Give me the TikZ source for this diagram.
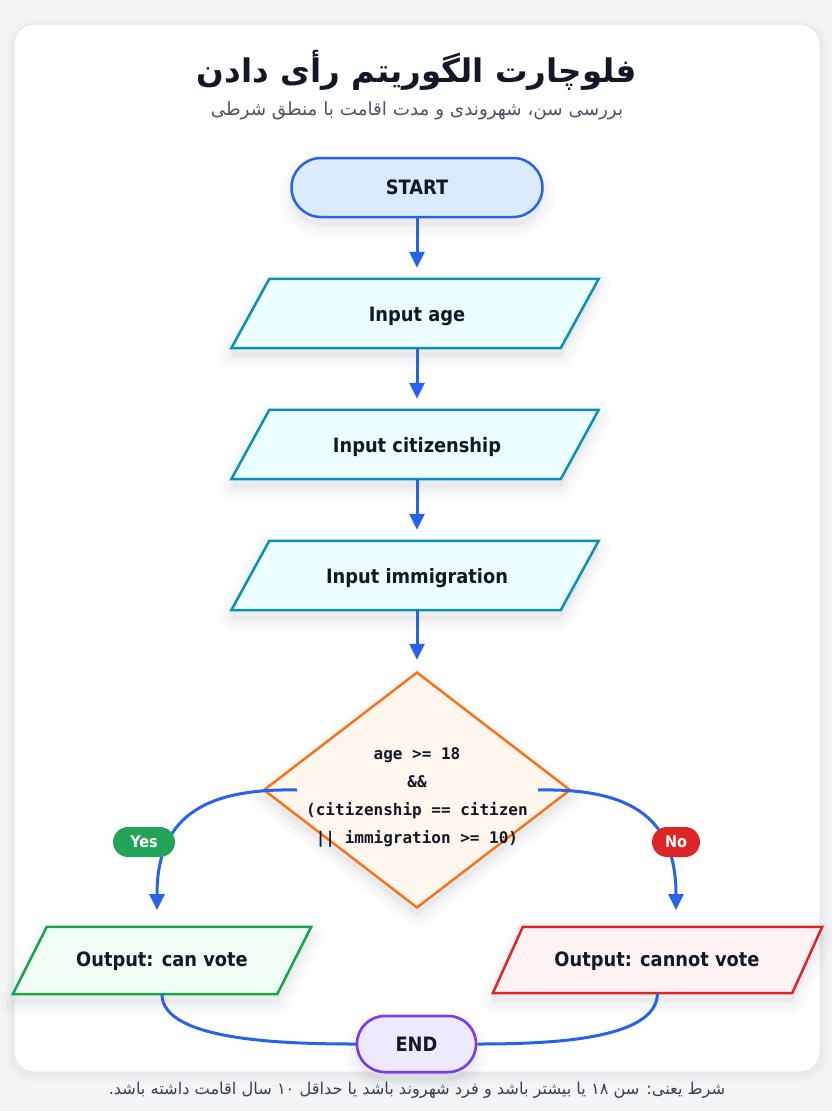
\documentclass[tikz,border=0pt]{standalone}
\usepackage{fontspec}
\setmainfont{DejaVu Sans}[FakeStretch=0.9]
\newfontfamily\fafont[Script=Arabic]{DejaVu Sans}
\newfontfamily\monofont{DejaVu Sans Mono}
\TeXXeTstate=1
\usetikzlibrary{shapes.geometric,arrows.meta}
\definecolor{pagebg}{HTML}{F3F4F6}
\definecolor{cardline}{HTML}{E5E7EB}
\definecolor{ink}{HTML}{111827}
\definecolor{subink}{HTML}{4B5563}
\definecolor{footink}{HTML}{374151}
\definecolor{flowblue}{HTML}{2563EB}
\definecolor{startfill}{HTML}{DBEAFE}
\definecolor{iofill}{HTML}{ECFEFF}
\definecolor{iodraw}{HTML}{0891B2}
\definecolor{decfill}{HTML}{FFF7ED}
\definecolor{decdraw}{HTML}{F97316}
\definecolor{yesfill}{HTML}{F0FDF4}
\definecolor{yesdraw}{HTML}{16A34A}
\definecolor{nofill}{HTML}{FEF2F2}
\definecolor{nodraw}{HTML}{DC2626}
\definecolor{endfill}{HTML}{EDE9FE}
\definecolor{enddraw}{HTML}{7C3AED}
\definecolor{yespill}{HTML}{22A559}
\definecolor{shade}{HTML}{1F2937}
\tikzset{
  shadowlayer/.style={preaction={draw=shade, fill=shade, draw opacity=#1, fill opacity=0.012,
     line join=round, transform canvas={yshift=-8pt}}},
  softshadow/.style={
     preaction={draw=shade, draw opacity=0.018, line width=24pt, line join=round, transform canvas={yshift=-8pt}},
     preaction={draw=shade, draw opacity=0.02, line width=14pt, line join=round, transform canvas={yshift=-8pt}},
     preaction={draw=shade, fill=shade, draw opacity=0.022, fill opacity=0.03, line width=5pt, line join=round, transform canvas={yshift=-8pt}}},
  cardshadow/.style={
     preaction={draw=shade, draw opacity=0.02, line width=14pt, line join=round, transform canvas={yshift=-3pt}},
     preaction={draw=shade, draw opacity=0.02, line width=7pt, line join=round, transform canvas={yshift=-3pt}}},
  lbl/.style={font=\bfseries\fontsize{19.8}{22}\selectfont, text=ink},
  term/.style={lbl, rectangle, line width=2.5pt, inner sep=0pt},
  iobox/.style={lbl, rectangle, inner sep=0pt},
  ioshape/.style={line width=2.5pt, line join=miter, softshadow},
  condbox/.style={diamond, line width=2.5pt, inner sep=0pt, draw=decdraw, fill=decfill, softshadow},
  condtext/.style={font=\monofont\bfseries\fontsize{16}{28}\selectfont, text=ink, align=center},
  flow/.style={draw=flowblue, line width=3pt, -{Triangle[length=16pt,width=15pt]}},
  link/.style={draw=flowblue, line width=3pt},
  pill/.style={rectangle, rounded corners=15pt, minimum height=30pt, inner sep=0pt, text=white,
     font=\bfseries\fontsize{16}{18}\selectfont}
}
% #1 node name, #2 half slant, #3 fill, #4 draw
\newcommand\paragram[4]{%
  \path[ioshape, fill=#3, draw=#4]
    ([xshift=-#2]#1.south west) -- ([xshift=-#2]#1.south east) --
    ([xshift=#2]#1.north east) -- ([xshift=#2]#1.north west) -- cycle;}
\begin{document}
\begin{tikzpicture}[x=1pt,y=-1pt]
\fill[pagebg] (0,0) rectangle (832,1111);
\useasboundingbox (0,0) rectangle (832,1111);
\draw[cardline, line width=1pt, fill=white, rounded corners=20pt, cardshadow]
  (14,24) rectangle (820,1072);

% titles
\node[font=\fafont\bfseries\fontsize{32.5}{38}\selectfont, text=ink] (title) at (417,70) {\beginR فلوچارت الگوریتم رأی دادن\endR};
\node[font=\fafont\fontsize{18.3}{20}\selectfont, text=subink] (subtitle) at (417,111) {\beginR بررسی سن، شهروندی و مدت اقامت با منطق شرطی\endR};

% start
\node[term, softshadow, fill=startfill, draw=flowblue, rounded corners=29.5pt, minimum width=251pt, minimum height=59pt] (start) at (417,187.5) {START};

% input boxes
\node[iobox, minimum width=329pt, minimum height=69pt] (age) at (415,313.5) {};
\node[iobox, minimum width=329pt, minimum height=69pt] (cit) at (415,444.5) {};
\node[iobox, minimum width=329pt, minimum height=69pt] (imm) at (415,575.5) {};
\paragram{age}{19pt}{iofill}{iodraw}
\paragram{cit}{19pt}{iofill}{iodraw}
\paragram{imm}{19pt}{iofill}{iodraw}
\node[lbl] (agetext) at (417,316) {Input age};
\node[lbl] (cittext) at (417,447) {Input citizenship};
\node[lbl] (immtext) at (417,578) {Input immigration};

% decision
\node[condbox, minimum width=307pt, minimum height=236pt] (cond) at (417,790) {};
\node[condtext] (condlbl) at (417,797) {age >= 18\\\&\&\\(citizenship == citizen\\|| immigration >= 10)};

% outputs
\node[iobox, minimum width=264pt, minimum height=67pt] (can) at (162,960.5) {};
\paragram{can}{17pt}{yesfill}{yesdraw}
\node[lbl] (cantext) at (162,961) {Output: can vote};
\node[iobox, minimum width=299pt, minimum height=66pt] (cannot) at (657.5,960) {};
\paragram{cannot}{15pt}{nofill}{nodraw}
\node[lbl] (cannottext) at (657,961) {Output: cannot vote};

% end
\node[term, softshadow, fill=endfill, draw=enddraw, rounded corners=28pt, minimum width=119pt, minimum height=56pt] (end) at (416.5,1044) {END};

% connectors
\draw[flow, shorten >=11pt] (start.south -| 417,0) -- (age.north -| 417,0);
\draw[flow, shorten >=11pt] (age.south -| 417,0) -- (cit.north -| 417,0);
\draw[flow, shorten >=11pt] (cit.south -| 417,0) -- (imm.north -| 417,0);
\draw[flow, shorten >=11pt] (imm.south -| 417,0) -- (cond.north);

\coordinate (yesstart) at (297,790);
\coordinate (yestip) at (157,910);
\coordinate (nostart) at (538,790);
\coordinate (notip) at (676,910);
\draw[flow] (yesstart) .. controls (200,788) and (157,820) .. (yestip);
\draw[flow] (nostart) .. controls (634,788) and (676,820) .. (notip);
\node[pill, fill=yespill, minimum width=62pt] (yes) at (144,842) {Yes};
\node[pill, fill=nodraw, minimum width=48pt] (no) at (676,842) {No};

\draw[link] (can.south) .. controls (162,1040) and (280,1044) .. (end.west);
\draw[link] (cannot.south) .. controls (657,1040) and (550,1044) .. (end.east);
\node[term, fill=endfill, draw=enddraw, rounded corners=28pt, minimum width=119pt, minimum height=56pt] at (end) {END};

% footer
\node[font=\fafont\fontsize{16.2}{18}\selectfont, text=footink] (foot) at (417,1090)
  {\beginR شرط یعنی: سن ۱۸ یا بیشتر باشد و فرد شهروند باشد یا حداقل ۱۰ سال اقامت داشته باشد.\endR};
\end{tikzpicture}
\end{document}
